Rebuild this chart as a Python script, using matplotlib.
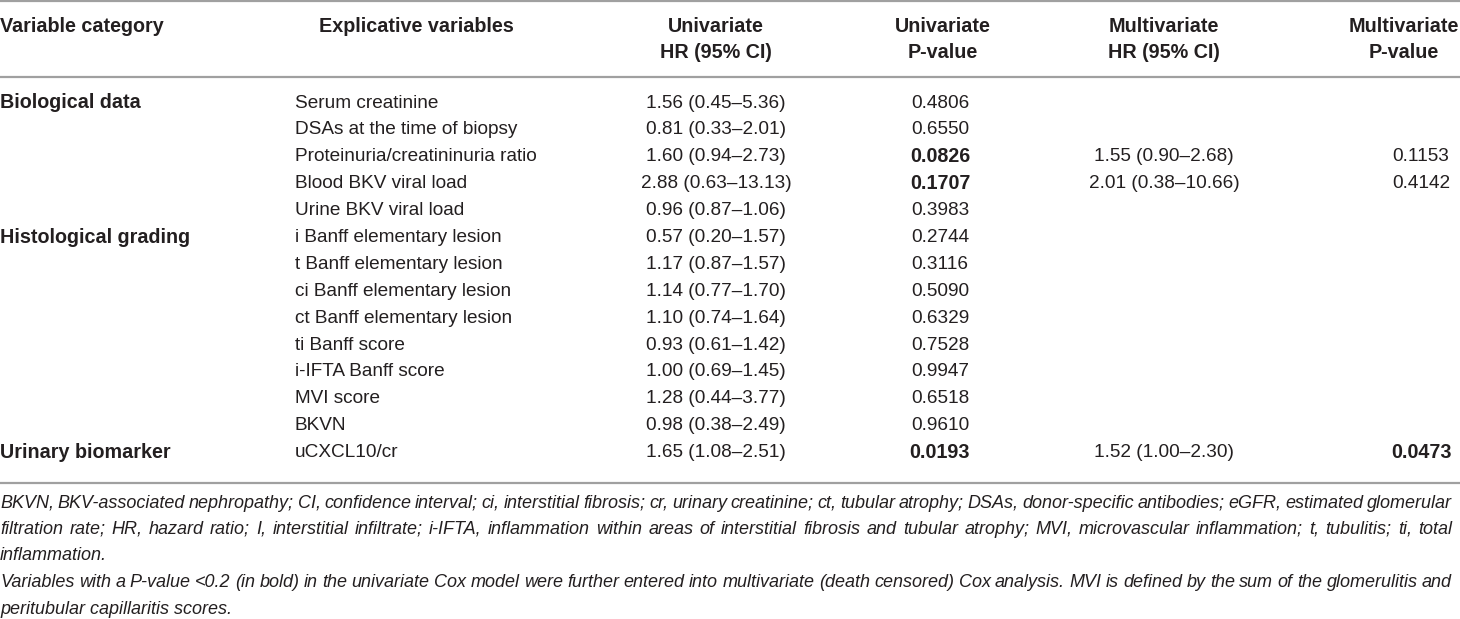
import matplotlib
matplotlib.use("Agg")
import matplotlib.pyplot as plt

# table content
categories = ["Biological data", "", "", "", "", "Histological grading", "", "", "", "", "", "", "",
              "Urinary biomarker"]
variables = ["Serum creatinine", "DSAs at the time of biopsy", "Proteinuria/creatininuria ratio",
             "Blood BKV viral load", "Urine BKV viral load", "i Banff elementary lesion",
             "t Banff elementary lesion", "ci Banff elementary lesion", "ct Banff elementary lesion",
             "ti Banff score", "i-IFTA Banff score", "MVI score", "BKVN", "uCXCL10/cr"]
uni_hr = ["1.56 (0.45\u20135.36)", "0.81 (0.33\u20132.01)", "1.60 (0.94\u20132.73)", "2.88 (0.63\u201313.13)",
          "0.96 (0.87\u20131.06)", "0.57 (0.20\u20131.57)", "1.17 (0.87\u20131.57)", "1.14 (0.77\u20131.70)",
          "1.10 (0.74\u20131.64)", "0.93 (0.61\u20131.42)", "1.00 (0.69\u20131.45)", "1.28 (0.44\u20133.77)",
          "0.98 (0.38\u20132.49)", "1.65 (1.08\u20132.51)"]
uni_p = ["0.4806", "0.6550", "0.0826", "0.1707", "0.3983", "0.2744", "0.3116", "0.5090", "0.6329",
         "0.7528", "0.9947", "0.6518", "0.9610", "0.0193"]
uni_bold = [False, False, True, True, False, False, False, False, False, False, False, False, False, True]
multi_hr = ["", "", "1.55 (0.90\u20132.68)", "2.01 (0.38\u201310.66)", "", "", "", "", "", "", "", "", "",
            "1.52 (1.00\u20132.30)"]
multi_p = ["", "", "0.1153", "0.4142", "", "", "", "", "", "", "", "", "", "0.0473"]
multi_bold = [False] * 13 + [True]

headers = [["Variable category"], ["Explicative variables"], ["Univariate", "HR (95% CI)"],
           ["Univariate", "P-value"], ["Multivariate", "HR (95% CI)"], ["Multivariate", "P-value"]]

footnote = [
    ("BKVN, BKV-associated nephropathy; CI, confidence interval; ci, interstitial fibrosis; cr, urinary "
     "creatinine; ct, tubular atrophy; DSAs, donor-specific antibodies; eGFR, estimated glomerular", True),
    ("filtration rate; HR, hazard ratio; I, interstitial infiltrate; i-IFTA, inflammation within areas of "
     "interstitial fibrosis and tubular atrophy; MVI, microvascular inflammation; t, tubulitis; ti, total", True),
    ("inflammation.", False),
    ("Variables with a P-value <0.2 (in bold) in the univariate Cox model were further entered into "
     "multivariate (death censored) Cox analysis. MVI is defined by the sum of the glomerulitis and", True),
    ("peritubular capillaritis scores.", False),
]

plt.rcParams['font.family'] = ['Liberation Sans', 'DejaVu Sans']

txt = '#231f20'
rule = '#a0a0a0'
fs_reg = 13.7
fs_bold = 14.2
fs_it = 13.0

fig = plt.figure(figsize=(14.6, 6.19), dpi=100)
ax = fig.add_axes([0, 0, 1, 1])
ax.set_xlim(0, 1460)
ax.set_ylim(619, 0)
ax.axis('off')

# rules
for y in [1, 77, 483]:
    ax.plot([0, 1460], [y, y], color=rule, lw=1.6, solid_capstyle='butt')

# header
head_x = [0, 416, 716, 943, 1164, 1404]
for i, lines in enumerate(headers):
    ha = 'left' if i == 0 else 'center'
    for j, h in enumerate(lines):
        ax.text(head_x[i], 26 + j * 27, h, ha=ha, va='center', fontsize=fs_bold,
                fontweight='bold', color=txt)

# rows
y0, dy = 103, 26.9
for r in range(len(variables)):
    y = y0 + r * dy
    if categories[r]:
        ax.text(0, y, categories[r], ha='left', va='center', fontsize=fs_bold, fontweight='bold', color=txt)
    ax.text(295, y, variables[r], ha='left', va='center', fontsize=fs_reg, color=txt)
    ax.text(716, y, uni_hr[r], ha='center', va='center', fontsize=fs_reg, color=txt)
    ax.text(940, y, uni_p[r], ha='center', va='center', color=txt,
            fontsize=fs_bold if uni_bold[r] else fs_reg,
            fontweight='bold' if uni_bold[r] else 'normal')
    if multi_hr[r]:
        ax.text(1164, y, multi_hr[r], ha='center', va='center', fontsize=fs_reg, color=txt)
        ax.text(1421, y, multi_p[r], ha='center', va='center', color=txt,
                fontsize=fs_bold if multi_bold[r] else fs_reg,
                fontweight='bold' if multi_bold[r] else 'normal')

# footnote, justified lines
renderer = fig.canvas.get_renderer()
inv = ax.transData.inverted()
fy0, fdy = 503, 26.5
right = 1452
for k, (line, justify) in enumerate(footnote):
    y = fy0 + k * fdy
    if not justify:
        ax.text(0, y, line, ha='left', va='center', fontsize=fs_it, style='italic', color=txt)
        continue
    words = line.split(' ')
    arts = [ax.text(0, y, w, ha='left', va='center', fontsize=fs_it, style='italic', color=txt)
            for w in words]
    widths = []
    for a in arts:
        bb = a.get_window_extent(renderer)
        widths.append(inv.transform((bb.x1, 0))[0] - inv.transform((bb.x0, 0))[0])
    gap = (right - sum(widths)) / (len(words) - 1)
    x = 0
    for a, w in zip(arts, widths):
        a.set_x(x)
        x += w + gap

fig.savefig("out.png", dpi=100)
